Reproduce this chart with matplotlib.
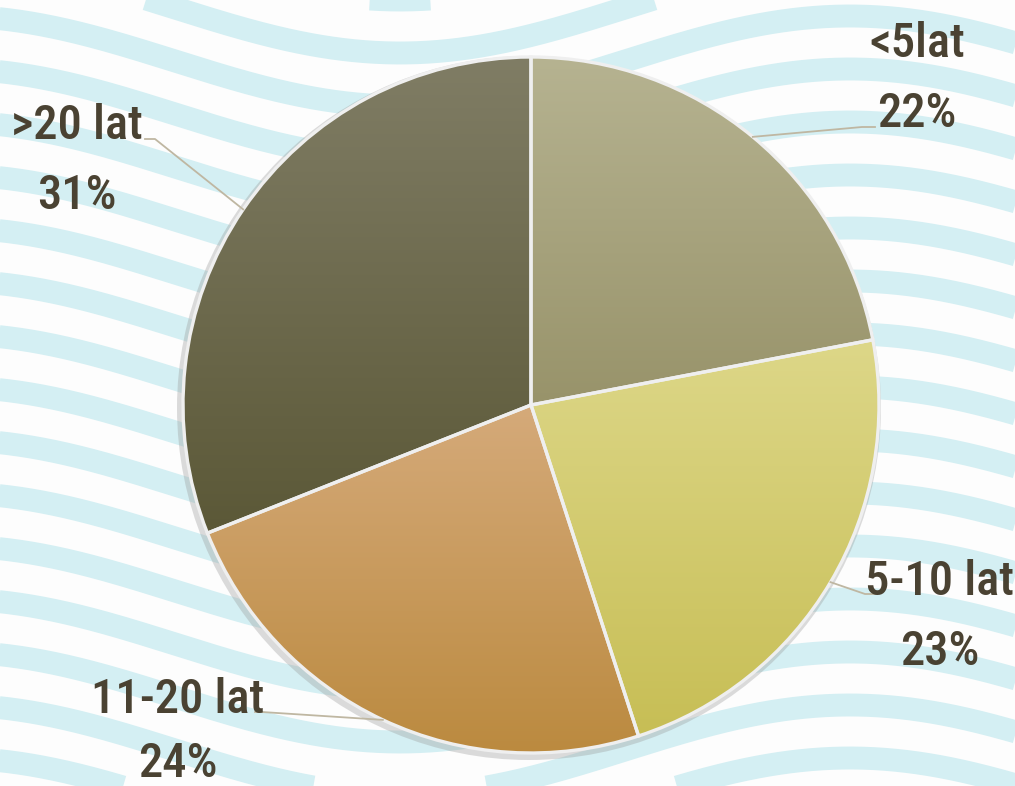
import numpy as np
import matplotlib
matplotlib.use('Agg')
import matplotlib.pyplot as plt
from matplotlib import font_manager
from matplotlib.colors import to_rgb
from matplotlib.patches import Circle

# DATA
labels = ['<5lat', '5-10 lat', '11-20 lat', '>20 lat']
values = [22, 23, 24, 31]
top_colors = ['#b6b391', '#ddd788', '#d5aa7a', '#807d65']
bottom_colors = ['#98936a', '#c7be55', '#bb8a3f', '#5b5837']

# LAYOUT (pixel coords, y from top)
W, H = 1015, 786
CX, CY, R = 531, 405, 348
label_pos = [(917, 57), (940, 595), (178, 713), (77, 139)]
line_gap = 70
elbows = [(862, 127), (865, 594), (262, 712), (155, 139)]
ends = [(875, 127), (877, 594), (255, 712), (145, 139)]

TEXT_COLOR = '#4a4232'
LINE_COLOR = '#bfb7a2'
WAVE_COLOR = '#d4eff3'


def fy(y):
    return H - y


# pick a narrow font if there is one
family = 'DejaVu Sans'
for cand in ['Liberation Sans Narrow', 'Roboto Condensed', 'Open Sans Condensed']:
    try:
        font_manager.findfont(cand, fallback_to_default=False)
        family = cand
        break
    except Exception:
        pass

fig = plt.figure(figsize=(W / 100, H / 100), dpi=100)
ax = fig.add_axes([0, 0, 1, 1])
ax.set_axis_off()

# background waves
ax.add_patch(plt.Rectangle((0, 0), W, H, color='#fdfdfd', zorder=0))
xs = np.linspace(-30, W + 30, 800)
for k in range(-3, 18):
    base = 8 + k * 53
    ys = base + 45 * np.cos(2 * np.pi * (xs - 400) / 900)
    ax.plot(xs, fy(ys), color=WAVE_COLOR, lw=16.5, solid_capstyle='butt', zorder=1)

# shadow
ax.add_patch(Circle((CX - 2, fy(CY) - 3), R + 4, color='#9a9a9a', alpha=0.35, zorder=2, lw=0))

wedges, _ = ax.pie(values, startangle=90, counterclock=False, center=(CX, fy(CY)),
                   radius=R, frame=False,
                   wedgeprops=dict(edgecolor='#efefef', linewidth=2.4))

for w, c0, c1 in zip(wedges, top_colors, bottom_colors):
    w.set_zorder(4)
    ext = w.get_path().get_extents()
    a = np.array(to_rgb(c0))
    b = np.array(to_rgb(c1))
    t = np.linspace(0, 1, 256)[:, None]
    grad = (a * (1 - t) + b * t)[:, None, :]
    im = ax.imshow(grad, extent=[ext.x0, ext.x1, ext.y0, ext.y1], origin='upper',
                   aspect='auto', zorder=3, interpolation='bilinear')
    im.set_clip_path(w)
    w.set_facecolor('none')

# labels and leader lines
total = sum(values)
for w, lab, v, (tx, ty), el, en in zip(wedges, labels, values, label_pos, elbows, ends):
    mid = np.deg2rad((w.theta1 + w.theta2) / 2)
    sx = CX + R * np.cos(mid)
    sy = fy(CY) + R * np.sin(mid)
    ax.plot([sx, el[0], en[0]], [sy, fy(el[1]), fy(en[1])], color=LINE_COLOR, lw=1.3, zorder=5)
    ax.text(tx, fy(ty), lab, ha='center', va='baseline', fontsize=35, fontweight='medium',
            family=family, color=TEXT_COLOR, zorder=6)
    ax.text(tx, fy(min(ty + line_gap, 777)), '%d%%' % round(100 * v / total), ha='center',
            va='baseline', fontsize=35, fontweight='medium', family=family,
            color=TEXT_COLOR, zorder=6)

ax.set_xlim(0, W)
ax.set_ylim(0, H)
ax.set_aspect('auto')

fig.savefig('out.png', dpi=100)
